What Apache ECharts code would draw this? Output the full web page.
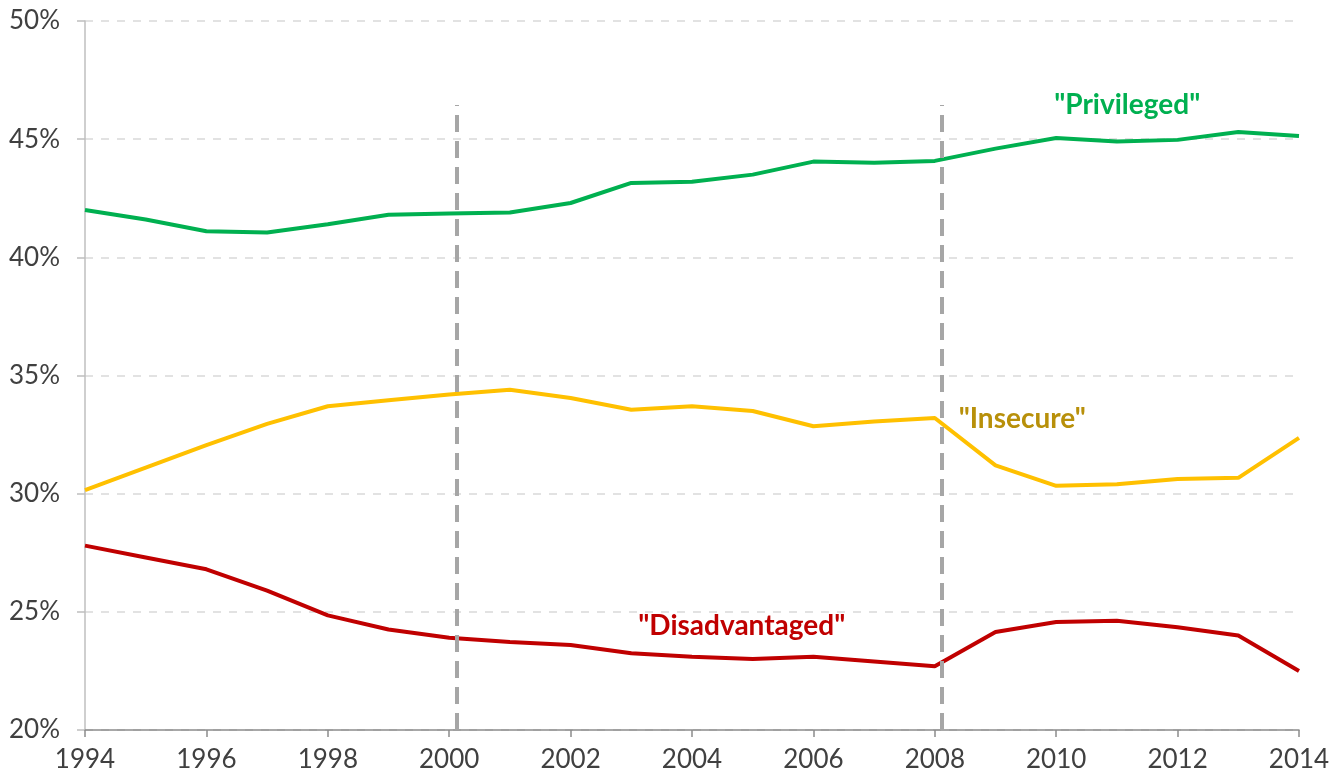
<!DOCTYPE html>
<html>
<head>
<meta charset="utf-8">
<script src="https://cdn.jsdelivr.net/npm/echarts@6/dist/echarts.min.js"></script>
<style>html,body{margin:0;padding:0;background:#fff}#c{width:1341px;height:778px}</style>
</head>
<body>
<div id="c"></div>
<script>
const years = [1994,1995,1996,1997,1998,1999,2000,2001,2002,2003,2004,2005,2006,2007,2008,2009,2010,2011,2012,2013,2014];
const privileged = [42.0,41.6,41.1,41.05,41.4,41.8,41.85,41.9,42.3,43.15,43.2,43.5,44.05,44.0,44.08,44.6,45.05,44.9,44.97,45.3,45.13];
const insecure = [30.15,31.1,32.05,32.95,33.7,33.95,34.2,34.4,34.05,33.55,33.7,33.5,32.85,33.05,33.2,31.2,30.33,30.4,30.62,30.67,32.36];
const disadvantaged = [27.8,27.3,26.8,25.9,24.85,24.25,23.9,23.72,23.6,23.25,23.1,23.0,23.1,22.9,22.7,24.15,24.57,24.62,24.35,24.0,22.5];
const periodMarks = [2000.13, 2008.12];
const markTop = 46.45;
const labelPrivileged = {text:'"Privileged"', x:2011.17, y:46.45};
const labelInsecure = {text:'"Insecure"', x:2009.44, y:33.16};
const labelDisadvantaged = {text:'"Disadvantaged"', x:2004.82, y:24.4};

const FONT = 'Lato, "Noto Sans", sans-serif';
function pairs(arr){ return years.map((y,i)=>[y, arr[i]]); }
function lbl(l, color){
  return {
    symbol:'circle', symbolSize:0, silent:true,
    label:{show:true, position:'inside', formatter:l.text, color:color, fontFamily:FONT, fontWeight:'bold', fontSize:28},
    data:[{coord:[l.x, l.y]}]
  };
}
const chart = echarts.init(document.getElementById('c'), null, {renderer:'canvas'});
chart.setOption({
  animation:false,
  grid:{left:85, right:42, top:21, bottom:48, containLabel:false},
  xAxis:{
    type:'value', min:1994, max:2014, interval:2,
    axisLine:{show:true, lineStyle:{color:'#8c8c8c', width:1.5}},
    axisTick:{show:true, length:7, lineStyle:{color:'#8c8c8c', width:1.5}},
    axisLabel:{color:'#404040', fontSize:26, fontFamily:FONT, margin:17, formatter:v=>String(v)},
    splitLine:{show:false}
  },
  yAxis:{
    type:'value', min:20, max:50, interval:5,
    axisLine:{show:true, lineStyle:{color:'#bfbfbf', width:1.5}},
    axisTick:{show:true, length:8, lineStyle:{color:'#bfbfbf', width:1.5}},
    axisLabel:{color:'#404040', fontSize:26, fontFamily:FONT, margin:25, formatter:v=>v+'%'},
    splitLine:{show:true, lineStyle:{color:'#d9d9d9', type:[8,8], width:1.5}}
  },
  series:[
    {
      type:'line', data:pairs(privileged), showSymbol:false, lineStyle:{color:'#00B050', width:4}, z:3,
      markPoint:lbl(labelPrivileged,'#00B050'),
      markLine:{
        silent:true, symbol:['none','none'], label:{show:false},
        lineStyle:{color:'#a6a6a6', type:[17,9], width:4},
        data: periodMarks.map(x=>[{coord:[x,20]},{coord:[x,markTop]}])
      }
    },
    {
      type:'line', data:pairs(insecure), showSymbol:false, lineStyle:{color:'#FFC000', width:4}, z:3,
      markPoint:lbl(labelInsecure,'#B8900A')
    },
    {
      type:'line', data:pairs(disadvantaged), showSymbol:false, lineStyle:{color:'#C00000', width:4}, z:3,
      markPoint:lbl(labelDisadvantaged,'#C00000')
    }
  ]
});
</script>
</body>
</html>
